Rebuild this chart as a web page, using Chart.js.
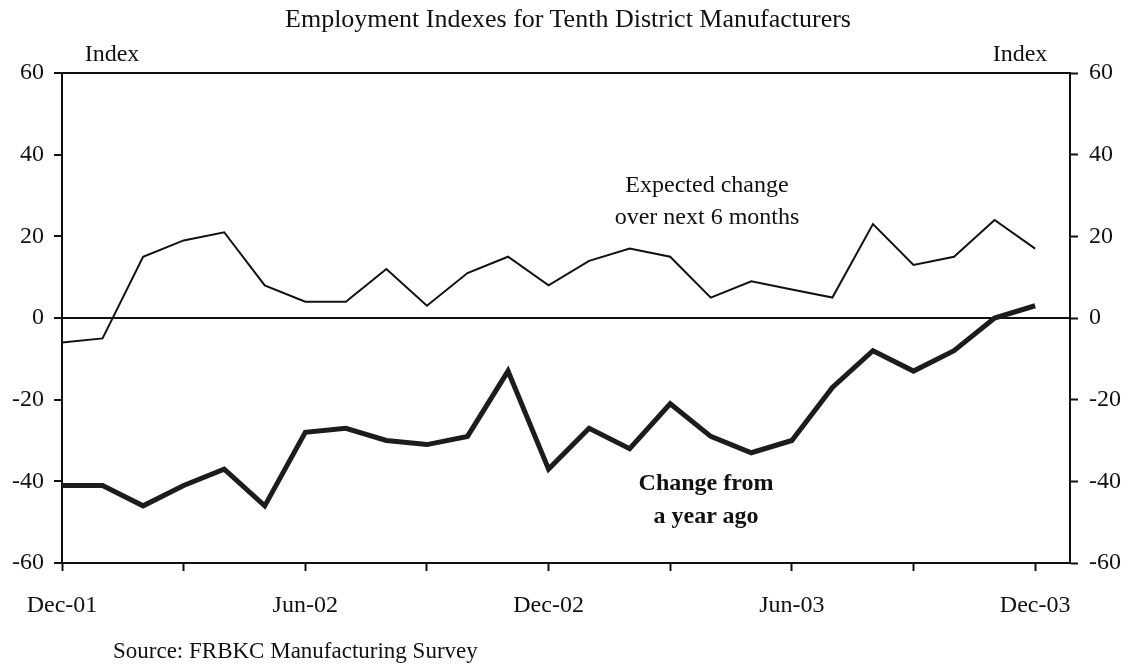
<!DOCTYPE html>
<html lang="en">
<head>
  <meta charset="UTF-8">
  <title>Employment Indexes for Tenth District Manufacturers</title>
  <style>
    body { margin: 0; background: #fff; font-family: "Liberation Serif", "Times New Roman", serif; color: #111; }
    #wrap { position: relative; width: 1130px; height: 667px; overflow: hidden; }
    canvas { position: absolute; left: 0; top: 0; }
    .txt { position: absolute; white-space: nowrap; line-height: 1; }
    .mid { transform: translateX(-50%); text-align: center; }
    #title { left: 568px; top: 6px; font-size: 26px; }
    #idxL { left: 112px; top: 41px; font-size: 24px; }
    #idxR { left: 1020px; top: 41px; font-size: 24px; }
    #expected { left: 707px; top: 168px; font-size: 24px; line-height: 32px; }
    #change { left: 706px; top: 466px; font-size: 24px; line-height: 33px; font-weight: bold; }
    #source { left: 113px; top: 639px; font-size: 23px; }
  </style>
  <script src="https://cdn.jsdelivr.net/npm/chart.js"></script>
</head>
<body>

<div id="wrap">
  <canvas id="chart" width="1130" height="667"></canvas>
  <div class="txt mid" id="title">Employment Indexes for Tenth District Manufacturers</div>
  <div class="txt mid" id="idxL">Index</div>
  <div class="txt mid" id="idxR">Index</div>
  <div class="txt mid" id="expected">Expected change<br>over next 6 months</div>
  <div class="txt mid" id="change">Change from<br>a year ago</div>
  <div class="txt" id="source">Source: FRBKC Manufacturing Survey</div>
</div>

<script>
  // monthly survey, Dec-01 .. Dec-03
  const months = ['Dec-01','Jan-02','Feb-02','Mar-02','Apr-02','May-02','Jun-02','Jul-02','Aug-02','Sep-02','Oct-02','Nov-02',
                  'Dec-02','Jan-03','Feb-03','Mar-03','Apr-03','May-03','Jun-03','Jul-03','Aug-03','Sep-03','Oct-03','Nov-03','Dec-03'];
  const expectedChange = [-6, -5, 15, 19, 21, 8, 4, 4, 12, 3, 11, 15, 8, 14, 17, 15, 5, 9, 7, 5, 23, 13, 15, 24, 17];
  const yearAgoChange  = [-41, -41, -46, -41, -37, -46, -28, -27, -30, -31, -29, -13, -37, -27, -32, -21, -29, -33, -30, -17, -8, -13, -8, 0, 3];

  const xTickSteps = [0, 3, 6, 9, 12, 15, 18, 21, 24];   // quarterly tick marks
  const xTickMonths = [0, 6, 12, 18, 24];
  const xTickLabels = ['Dec-01', 'Jun-02', 'Dec-02', 'Jun-03', 'Dec-03'];
  const yTicks = [-60, -40, -20, 0, 20, 40, 60];

  Chart.defaults.font.family = '"Liberation Serif", "Times New Roman", serif';
  Chart.defaults.font.size = 24;
  Chart.defaults.color = '#111';

  const toPoints = arr => arr.map((v, i) => ({ x: i, y: v }));

  // top frame line
  const topBorder = {
    id: 'topBorder',
    afterDraw(chart) {
      const { ctx, chartArea } = chart;
      ctx.save();
      ctx.strokeStyle = '#111';
      ctx.lineWidth = 2;
      ctx.beginPath();
      ctx.moveTo(chartArea.left, chartArea.top);
      ctx.lineTo(chartArea.right, chartArea.top);
      ctx.stroke();
      ctx.restore();
    }
  };

  const yAxisCommon = {
    min: -60,
    max: 60,
    afterBuildTicks: s => { s.ticks = yTicks.map(v => ({ value: v })); },
    border: { color: '#111', width: 2 },
    ticks: { padding: 10, color: '#111' }
  };

  new Chart(document.getElementById('chart'), {
    type: 'line',
    data: {
      datasets: [
        {
          label: 'Expected change over next 6 months',
          data: toPoints(expectedChange),
          borderColor: '#111',
          borderWidth: 2,
          pointRadius: 0,
          tension: 0,
          yAxisID: 'y'
        },
        {
          label: 'Change from a year ago',
          data: toPoints(yearAgoChange),
          borderColor: '#1c1c1c',
          borderWidth: 5,
          pointRadius: 0,
          tension: 0,
          borderJoinStyle: 'miter',
          yAxisID: 'y'
        }
      ]
    },
    options: {
      responsive: false,
      animation: false,
      layout: { padding: { top: 73, left: 0, right: 0, bottom: 0 } },
      plugins: { legend: { display: false }, tooltip: { enabled: false } },
      scales: {
        x: {
          type: 'linear',
          min: 0,
          max: 24.86,
          afterBuildTicks: s => { s.ticks = xTickSteps.map(v => ({ value: v })); },
          afterFit: s => { s.height = 104; },
          border: { color: '#111', width: 2 },
          grid: { drawOnChartArea: false, tickLength: 8, tickColor: '#111', tickWidth: 2 },
          ticks: {
            autoSkip: false,
            maxRotation: 0,
            padding: 20,
            color: '#111',
            callback: v => {
              const i = xTickMonths.indexOf(v);
              return i >= 0 ? xTickLabels[i] : '';
            }
          }
        },
        y: {
          ...yAxisCommon,
          position: 'left',
          afterFit: s => { s.width = 62; },
          grid: {
            drawOnChartArea: true,
            color: c => (c.tick && c.tick.value === 0 ? '#111' : 'rgba(0,0,0,0)'),
            lineWidth: 2,
            tickLength: 8,
            tickColor: '#111',
            tickWidth: 2
          }
        },
        y2: {
          ...yAxisCommon,
          position: 'right',
          afterFit: s => { s.width = 60; },
          ticks: { padding: 11, color: '#111' },
          grid: { drawOnChartArea: false, tickLength: 8, tickColor: '#111', tickWidth: 2 }
        }
      }
    },
    plugins: [topBorder]
  });
</script>

</body>
</html>
